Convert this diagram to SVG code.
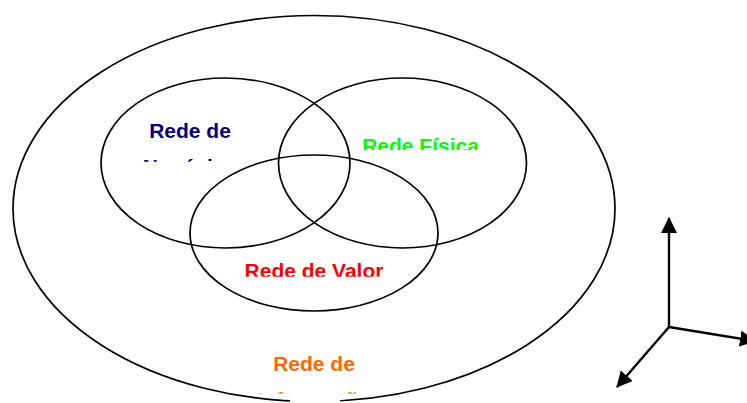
<svg xmlns="http://www.w3.org/2000/svg" width="747" height="403" viewBox="0 0 747 403">
<style>
.ring{fill:none;stroke:#000;stroke-width:1.7}
.lbl{font-family:"Liberation Sans",Arial,sans-serif;font-weight:bold;font-size:21px;text-anchor:middle}
.axis{stroke:#000;stroke-width:2.4;fill:none}
</style>
<defs>
<marker id="ah" markerUnits="userSpaceOnUse" markerWidth="16" markerHeight="16" viewBox="0 0 16 16" refX="15" refY="8" orient="auto">
<path d="M0,0 L16,8 L0,16 Z" fill="#000"/>
</marker>
<clipPath id="cNeg"><rect x="100" y="100" width="180" height="61.7"/></clipPath>
<clipPath id="cFis"><rect x="340" y="120" width="160" height="30"/></clipPath>
<clipPath id="cVal"><rect x="220" y="245" width="190" height="31.7"/></clipPath>
<clipPath id="cInf"><rect x="230" y="340" width="170" height="53.5"/></clipPath>
</defs>
<rect width="747" height="403" fill="#fff"/>
<g id="outer">
<ellipse class="ring" cx="314" cy="208.5" rx="301" ry="193"/>
</g>
<g id="negocios">
<ellipse class="ring" cx="225.5" cy="163" rx="124.5" ry="85"/>
</g>
<g id="fisica">
<ellipse class="ring" cx="402.5" cy="163" rx="124" ry="85"/>
</g>
<g id="valor">
<ellipse class="ring" cx="314" cy="233" rx="124" ry="78"/>
</g>
<g id="label-negocios" clip-path="url(#cNeg)">
<text class="lbl" fill="#000080"><tspan x="190" y="137.5">Rede de</tspan><tspan x="190" y="174.3">Negócios</tspan></text>
</g>
<g id="label-fisica" clip-path="url(#cFis)">
<text class="lbl" fill="#00FF00" x="420.5" y="153">Rede Física</text>
</g>
<g id="label-valor" clip-path="url(#cVal)">
<text class="lbl" fill="#FF0000" x="314" y="277.7">Rede de Valor</text>
</g>
<g id="label-informacao">
<rect x="290" y="393.5" width="50" height="10" fill="#fff"/>
<g clip-path="url(#cInf)">
<text class="lbl" fill="#FF6600"><tspan x="314" y="370.7">Rede de</tspan><tspan x="314" y="407">Informação</tspan></text>
</g>
</g>
<g id="connectors">
<line class="axis" x1="669" y1="327" x2="669" y2="218" marker-end="url(#ah)"/>
<line class="axis" x1="669" y1="327" x2="755" y2="341" marker-end="url(#ah)"/>
<line class="axis" x1="669" y1="327" x2="617" y2="387" marker-end="url(#ah)"/>
</g>
</svg>
